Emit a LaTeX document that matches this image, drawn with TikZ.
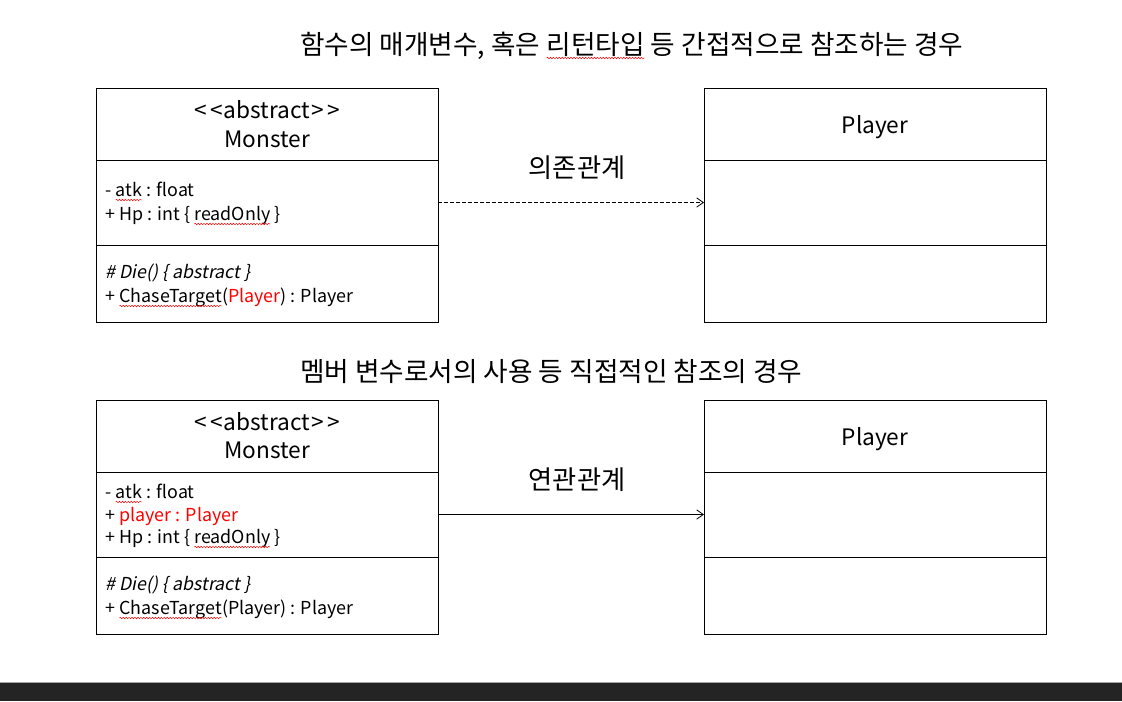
\documentclass[tikz,border=0pt]{standalone}
\usepackage{fontspec}
\setmainfont{Noto Sans CJK KR}[AutoFakeSlant=0.2]
\usetikzlibrary{arrows.meta,decorations.pathmorphing}
\definecolor{barc}{HTML}{242424}
\definecolor{redc}{HTML}{FF0000}
\newcommand\sq[1]{\tikz[baseline=(sqw.base)]{\node[inner sep=0pt,outer sep=0pt,anchor=base](sqw){#1};
  \draw[redc,line width=0.35pt,decorate,decoration={snake,amplitude=0.6pt,segment length=2.2pt}]
  ([yshift=-3pt]sqw.base west) -- ([yshift=-3pt]sqw.base east);}}
\newcommand\stereo[1]{\symbol{60}\kern2.5pt\symbol{60}\kern0.8pt#1\kern0.8pt\symbol{62}\kern2.5pt\symbol{62}}
\begin{document}
\begin{tikzpicture}[x=0.75pt,y=-0.75pt,
  cell/.style={draw,line width=0.75pt,anchor=north west,minimum width=256.5pt,inner sep=0pt,outer sep=0pt},
  hdcell/.style={minimum height=54pt},
  atcell/.style={minimum height=63.75pt},
  mecell/.style={minimum height=57.75pt},
  big/.style={font=\fontsize{17}{19}\selectfont,anchor=base,inner sep=0pt},
  small/.style={font=\fontsize{13.4}{15}\selectfont,anchor=base west,inner sep=0pt},
  title/.style={font=\fontsize{20}{22}\selectfont,anchor=base west,inner sep=0pt},
  rel/.style={font=\fontsize{19.7}{22}\selectfont,anchor=base,inner sep=0pt},
  conn/.style={line width=0.6pt,-{Straight Barb[length=5pt,width=7pt,line width=0.6pt]}}]
\useasboundingbox (0,0) rectangle (1122,701);
\fill[white] (0,0) rectangle (1122,701);
\fill[barc] (0,683) rectangle (1122,701);
\draw[gray!70,line width=0.75pt] (0,682.5) -- (1122,682.5);

% titles
\node[title] (t1) at (300,54) {함수의 매개변수, 혹은 \sq{리턴타입} 등 간접적으로 참조하는 경우};
\node[title] (t2) at (300,381) {멤버 변수로서의 사용 등 직접적인 참조의 경우};

% top left class
\node[cell,hdcell] (m1h) at (96,88) {};
\node[cell,atcell] (m1a) at (96,160) {};
\node[cell,mecell] (m1m) at (96,245) {};
\node[big] (m1s) at (267,118) {\stereo{abstract}};
\node[big] (m1n) at (267,147) {Monster};
\node[small] (m1a1) at (105,196) {- \sq{atk} : float};
\node[small] (m1a2) at (105,220) {+ Hp : int \{ \sq{readOnly} \}};
\node[small] (m1m1) at (105,278) {\itshape \# Die() \{ abstract \}};
\node[small] (m1m2) at (105,302) {+ \sq{ChaseTarget}(\textcolor{redc}{Player}) : Player};

% top right class
\node[cell,hdcell] (p1h) at (704,88) {};
\node[cell,atcell] (p1a) at (704,160) {};
\node[cell,mecell] (p1m) at (704,245) {};
\node[big] (p1n) at (875,133) {Player};

% bottom left class
\node[cell,hdcell] (m2h) at (96,400) {};
\node[cell,atcell] (m2a) at (96,472) {};
\node[cell,mecell] (m2m) at (96,557) {};
\node[big] (m2s) at (267,430) {\stereo{abstract}};
\node[big] (m2n) at (267,458) {Monster};
\node[small] (m2a1) at (105,498) {- \sq{atk} : float};
\node[small,text=redc] (m2a2) at (105,521) {\textcolor{black}{+} player : Player};
\node[small] (m2a3) at (105,543) {+ Hp : int \{ \sq{readOnly} \}};
\node[small] (m2m1) at (105,590) {\itshape \# Die() \{ abstract \}};
\node[small] (m2m2) at (105,614) {+ \sq{ChaseTarget}(Player) : Player};

% bottom right class
\node[cell,hdcell] (p2h) at (704,400) {};
\node[cell,atcell] (p2a) at (704,472) {};
\node[cell,mecell] (p2m) at (704,557) {};
\node[big] (p2n) at (875,445) {Player};

% relations
\node[rel] (r1) at (577,177) {의존관계};
\node[rel] (r2) at (577,489) {연관관계};
\draw[conn,dash pattern=on 3pt off 1.5pt] (m1a.east) -- (p1a.west);
\draw[conn] (m2a.east) -- (p2a.west);
\end{tikzpicture}
\end{document}
